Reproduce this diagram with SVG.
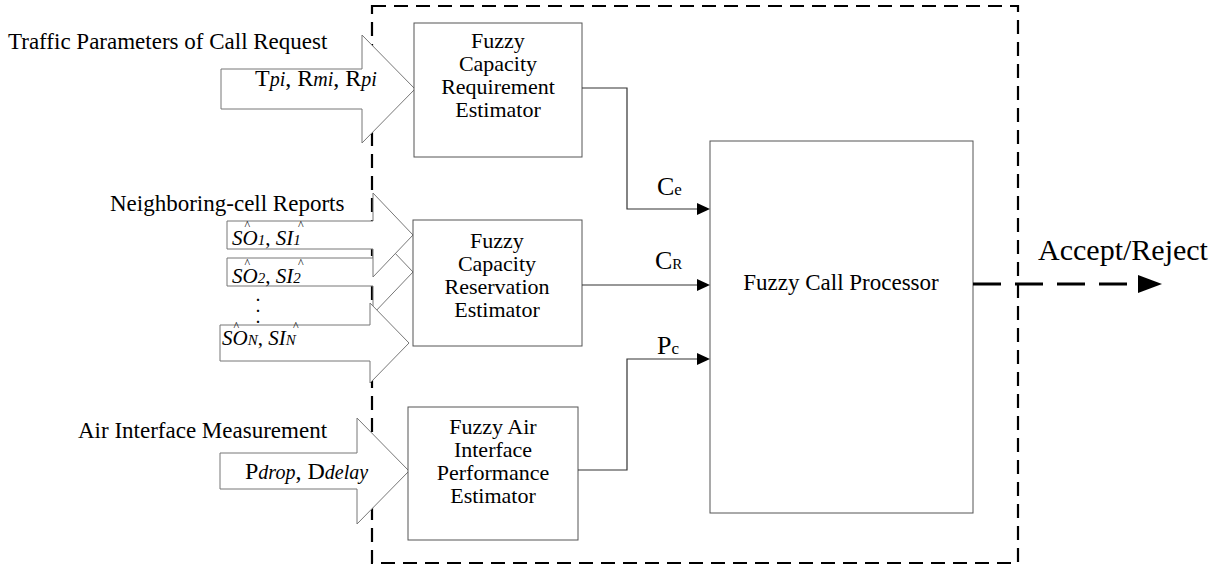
<svg xmlns="http://www.w3.org/2000/svg" width="1230" height="570" viewBox="0 0 1230 570">
<style>
text{font-family:"Liberation Serif","Times New Roman",serif;fill:#000}
.lbl{font-size:23px}
.box{fill:#fff;stroke:#555;stroke-width:1}
.bt{font-size:22px;text-anchor:middle}
.big{fill:#fff;stroke:#777;stroke-width:1}
.it{font-style:italic}
.sub{font-style:italic;font-size:15px}
.con{fill:none;stroke:#333;stroke-width:1.2}
.ah{fill:#000}
.hat{font-size:12px;font-style:normal}
</style>
<rect id="boundary" x="372" y="6" width="646" height="557" fill="none" stroke="#000" stroke-width="2.2" stroke-dasharray="14 8"/>
<g id="input-traffic">
<text class="lbl" x="8" y="49">Traffic Parameters of Call Request</text>
<polygon class="big" points="221,69 362,69 362,35 415,89 362,143 362,109 221,109"/>
<text x="255" y="86" font-size="24">T<tspan class="it" font-size="20">pi</tspan>, R<tspan class="it" font-size="20">mi</tspan>, R<tspan class="it" font-size="20">pi</tspan></text>
</g>
<g id="input-neighbor">
<text class="lbl" x="110" y="211">Neighboring-cell Reports</text>
<polygon class="big" points="227,258 373,258 373,230 413,272 373,314 373,286 227,286"/>
<polygon class="big" points="227,221 373,221 373,193 413,235 373,277 373,249 227,249"/>
<polygon class="big" points="220,325 370,325 370,303 409,343 370,383 370,361 220,361"/>
<text x="232" y="245" font-size="21"><tspan class="it">SO</tspan><tspan class="sub">1</tspan>, <tspan class="it">SI</tspan><tspan class="sub">1</tspan><tspan class="hat" x="244.5" y="229">^</tspan><tspan class="hat" x="298" y="229">^</tspan></text>
<text x="232" y="283" font-size="21"><tspan class="it">SO</tspan><tspan class="sub">2</tspan>, <tspan class="it">SI</tspan><tspan class="sub">2</tspan><tspan class="hat" x="244.5" y="267">^</tspan><tspan class="hat" x="298" y="267">^</tspan></text>
<text x="258" y="301" font-size="14" font-weight="bold" text-anchor="middle">.<tspan x="258" y="312">.</tspan><tspan x="258" y="323">.</tspan></text>
<text x="222" y="345" font-size="21"><tspan class="it">SO</tspan><tspan class="sub">N</tspan>, <tspan class="it">SI</tspan><tspan class="sub">N</tspan><tspan class="hat" x="233.5" y="330">^</tspan><tspan class="hat" x="293" y="330">^</tspan></text>
</g>
<g id="input-air">
<text class="lbl" x="78" y="438">Air Interface Measurement</text>
<polygon class="big" points="220,453 357,453 357,418 409,471 357,524 357,489 220,489"/>
<text x="245" y="479" font-size="24">P<tspan class="it" font-size="20">drop</tspan>, D<tspan class="it" font-size="20">delay</tspan></text>
</g>
<g id="capacity-requirement">
<rect class="box" x="414" y="23" width="168" height="134"/>
<text class="bt" x="498" y="48">Fuzzy</text>
<text class="bt" x="498" y="71">Capacity</text>
<text class="bt" x="498" y="94">Requirement</text>
<text class="bt" x="498" y="117">Estimator</text>
</g>
<g id="capacity-reservation">
<rect class="box" x="413" y="220" width="169" height="126"/>
<text class="bt" x="497" y="248">Fuzzy</text>
<text class="bt" x="497" y="271">Capacity</text>
<text class="bt" x="497" y="294">Reservation</text>
<text class="bt" x="497" y="317">Estimator</text>
</g>
<g id="air-performance">
<rect class="box" x="408" y="407" width="170" height="133"/>
<text class="bt" x="493" y="434">Fuzzy Air</text>
<text class="bt" x="493" y="457">Interface</text>
<text class="bt" x="493" y="480">Performance</text>
<text class="bt" x="493" y="503">Estimator</text>
</g>
<g id="call-processor">
<rect class="box" x="710" y="141" width="263" height="372"/>
<text class="lbl" x="841" y="290" text-anchor="middle">Fuzzy Call Processor</text>
</g>
<g id="connectors">
<polyline class="con" points="582,88 627,88 627,209 698,209"/>
<polygon class="ah" points="697,203 710,209 697,215"/>
<text x="657" y="195" font-size="26">C<tspan font-size="17">e</tspan></text>
<line class="con" x1="582" y1="285" x2="698" y2="285"/>
<polygon class="ah" points="697,279 710,285 697,291"/>
<text x="655" y="269" font-size="26">C<tspan font-size="15">R</tspan></text>
<polyline class="con" points="578,470 627,470 627,359 698,359"/>
<polygon class="ah" points="697,353 710,359 697,365"/>
<text x="657" y="354" font-size="26">P<tspan font-size="17">c</tspan></text>
<line x1="973" y1="284" x2="1140" y2="284" stroke="#000" stroke-width="3" stroke-dasharray="28 14"/>
<polygon class="ah" points="1138,275 1162,284 1138,293"/>
<text x="1123" y="260" font-size="30" text-anchor="middle">Accept/Reject</text>
</g>
</svg>
